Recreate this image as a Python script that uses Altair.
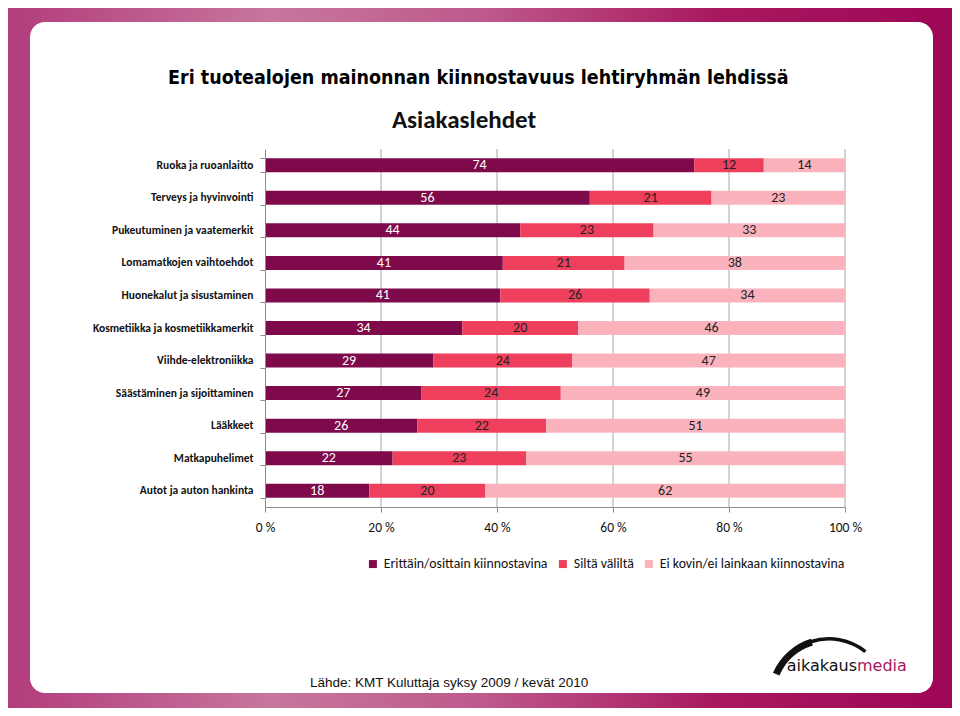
import altair as alt
import pandas as pd

categories = [
    "Ruoka ja ruoanlaitto",
    "Terveys ja hyvinvointi",
    "Pukeutuminen ja vaatemerkit",
    "Lomamatkojen vaihtoehdot",
    "Huonekalut ja sisustaminen",
    "Kosmetiikka ja kosmetiikkamerkit",
    "Viihde-elektroniikka",
    "Säästäminen ja sijoittaminen",
    "Lääkkeet",
    "Matkapuhelimet",
    "Autot ja auton hankinta",
]
series = [
    "Erittäin/osittain kiinnostavina",
    "Siltä väliltä",
    "Ei kovin/ei lainkaan kiinnostavina",
]
high = [74, 56, 44, 41, 41, 34, 29, 27, 26, 22, 18]
mid = [12, 21, 23, 21, 26, 20, 24, 24, 22, 23, 20]
low = [14, 23, 33, 38, 34, 46, 47, 49, 51, 55, 62]
colors = ["#7E0A4C", "#EE3F5C", "#FAB3BD"]
grid_ticks = [0.2, 0.4, 0.6, 0.8, 1.0]
axis_ticks = [0, 0.2, 0.4, 0.6, 0.8, 1.0]

title_text = "Eri tuotealojen mainonnan kiinnostavuus lehtiryhmän lehdissä"
subtitle_text = "Asiakaslehdet"
source_text = "Lähde: KMT Kuluttaja syksy 2009 / kevät 2010"
logo_a = "aikakaus"
logo_b = "media"

rows = []
for i, c in enumerate(categories):
    for j, vals in enumerate([high, mid, low]):
        rows.append({"category": c, "series": series[j], "value": vals[i], "order": j})
df = pd.DataFrame(rows)
one = pd.DataFrame({"k": [0]})

W, H = 580, 358
CAL = "Carlito, Lato, Open Sans, sans-serif"

xscale = alt.Scale(domain=[0, 1], nice=False, zero=True)
yscale = alt.Scale(domain=categories, paddingInner=0.57, paddingOuter=0.285)

xaxis = alt.Axis(
    title=None, values=axis_ticks, grid=False, labelFlush=False,
    labelExpr="format(datum.value*100,'d') + ' %'",
    domainColor="#8C8C8C", tickColor="#8C8C8C", tickSize=5,
    labelFont=CAL, labelFontSize=13.5, labelColor="#111111",
    labelPadding=8, zindex=1, orient="bottom",
)
yaxis = alt.Axis(
    title=None, grid=False, tickBand="extent",
    domainColor="#8C8C8C", tickColor="#8C8C8C", tickSize=5,
    labelFont=CAL, labelFontSize=11.5, labelFontWeight="bold",
    labelColor="#111111", labelPadding=7, zindex=1, labelLimit=300,
)

bg = alt.Chart(one).mark_rect(
    color=alt.LinearGradient(
        gradient="linear",
        stops=[
            alt.GradientStop(color="#B23C7C", offset=0),
            alt.GradientStop(color="#C7769D", offset=0.28),
            alt.GradientStop(color="#BE5A8C", offset=0.5),
            alt.GradientStop(color="#A8185F", offset=0.75),
            alt.GradientStop(color="#9E0656", offset=1),
        ],
        x1=0, x2=1, y1=0, y2=0,
    )
).encode(x=alt.value(-260), x2=alt.value(691), y=alt.value(-149), y2=alt.value(564))

panel = alt.Chart(one).mark_rect(color="white", cornerRadius=15).encode(
    x=alt.value(-235), x2=alt.value(668), y=alt.value(-127), y2=alt.value(544)
)

grid = alt.Chart(pd.DataFrame({"g": grid_ticks})).mark_rule(
    color="#A6A6A6", strokeWidth=1
).encode(
    x=alt.X("g:Q", scale=xscale, axis=xaxis),
    y=alt.value(0), y2=alt.value(H),
)

base = alt.Chart(df).transform_stack(
    stack="value", groupby=["category"], as_=["v0", "v1"],
    offset="normalize", sort=[alt.SortField("order", order="ascending")],
)

bars = base.mark_bar().encode(
    y=alt.Y("category:N", scale=yscale, axis=yaxis),
    x=alt.X("v0:Q", scale=xscale, axis=xaxis),
    x2="v1:Q",
    color=alt.Color(
        "series:N",
        scale=alt.Scale(domain=series, range=colors),
        legend=alt.Legend(
            title=None, orient="none", legendX=101, legendY=408,
            direction="horizontal", symbolType="square", symbolSize=64,
            symbolStrokeWidth=0, labelFont=CAL, labelFontSize=13.8,
            labelColor="#111111", columnPadding=8, labelOffset=4,
            labelLimit=400, zindex=1,
        ),
    ),
)

labels = base.transform_calculate(mid="(datum.v0 + datum.v1) / 2").mark_text(
    font=CAL, fontSize=14, baseline="middle"
).encode(
    y=alt.Y("category:N", scale=yscale, axis=yaxis),
    x=alt.X("mid:Q", scale=xscale, axis=xaxis),
    text="value:Q",
    color=alt.condition(alt.datum.order == 0, alt.value("white"), alt.value("#222222")),
)

title = alt.Chart(one).mark_text(
    text=title_text, font="Liberation Sans Narrow, DejaVu Sans Condensed, sans-serif",
    fontSize=19.5, fontWeight="bold", align="left", baseline="middle", color="#000000",
).encode(x=alt.value(-97), y=alt.value(-71))

subtitle = alt.Chart(one).mark_text(
    text=subtitle_text, font=CAL, fontSize=25, fontWeight="bold",
    align="center", baseline="middle", color="#111111",
).encode(x=alt.value(199), y=alt.value(-29))

source = alt.Chart(one).mark_text(
    text=source_text, font="Liberation Sans, Arial, sans-serif", fontSize=13.5,
    align="left", baseline="middle", color="#111111",
).encode(x=alt.value(45), y=alt.value(534))

logo1 = alt.Chart(one).mark_text(
    text=logo_a, font="DejaVu Sans, sans-serif", fontSize=16,
    align="right", baseline="alphabetic", color="#111111",
).encode(x=alt.value(592), y=alt.value(522))

logo2 = alt.Chart(one).mark_text(
    text=logo_b, font="DejaVu Sans, sans-serif", fontSize=16,
    align="left", baseline="alphabetic", color="#A3195B",
).encode(x=alt.value(592), y=alt.value(522))

swoosh1 = alt.Chart(one).mark_arc(
    theta=5.12, theta2=5.98, radius=61, radius2=54, color="#111111"
).encode(x=alt.value(564), y=alt.value(548))

swoosh2 = alt.Chart(one).mark_arc(
    theta=5.96, theta2=6.96, radius=60, radius2=56.5, color="#111111"
).encode(x=alt.value(564), y=alt.value(548))

chart = alt.layer(
    bg, panel, grid, bars, labels, title, subtitle, source,
    logo1, logo2, swoosh1, swoosh2
).properties(
    width=W, height=H,
    autosize=alt.AutoSizeParams(type="none"),
    padding={"left": 257, "top": 141, "right": 107, "bottom": 201},
    background="white",
).configure_view(stroke="transparent")

chart.save("out.html", embed_options={"renderer": "svg", "actions": False})
